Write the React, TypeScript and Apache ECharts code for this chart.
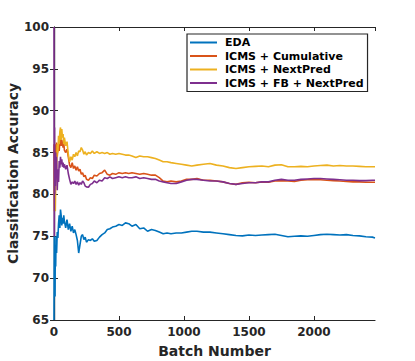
import React, { useEffect, useRef } from "react";
import * as echarts from "echarts";

const batches = [0,2,4,6,8,10,13,16,20,25,30,35,40,45,50,55,60,65,70,75,80,90,100,110,120,130,140,150,160,170,180,190,200,210,220,230,240,250,265,280,295,310,330,350,370,390,410,430,450,475,500,525,550,575,600,630,660,690,720,750,780,810,840,870,900,940,980,1020,1060,1100,1150,1200,1250,1300,1350,1400,1450,1500,1550,1600,1650,1700,1750,1800,1850,1900,1950,2000,2050,2100,2150,2200,2250,2300,2350,2400,2450,2470];

const eda = [65,75,68,72,67.8,74,71.4,75,73,75.5,74.8,76.5,77.5,76,78.2,77.5,76.3,77.2,76.5,77.5,76.8,76,77,75.8,76.5,75.6,76.2,75.4,75.8,75.2,74.5,73.0,74.0,75.0,75.2,74.6,74.9,74.3,74.6,74.5,74.7,74.4,74.5,74.9,75.2,75.4,75.8,75.9,76.1,76.2,76.4,76.3,76.6,76.5,76.2,76.4,75.9,76.0,75.6,75.8,75.7,75.5,75.3,75.4,75.3,75.4,75.4,75.5,75.6,75.6,75.5,75.5,75.4,75.3,75.2,75.1,75.05,75.15,75.1,75.15,75.2,75.25,75.1,74.95,75.0,75.05,75.0,75.1,75.2,75.25,75.2,75.15,75.2,75.1,75.05,74.95,74.9,74.8];

const cumulative = [86,80,86,83,85.5,84,86,85,86.2,84.5,85.5,86,85.2,86.3,86.8,85.8,86.5,86.1,85.6,86.2,85.3,85.0,85.4,84.5,83.5,83.2,83.8,83.1,83.4,82.9,83.3,82.8,83.0,82.4,82.6,82.1,82.3,81.8,81.7,82.0,81.9,82.3,82.2,82.5,82.6,82.9,82.4,82.3,82.5,82.4,82.6,82.5,82.6,82.5,82.6,82.5,82.4,82.5,82.4,82.3,82.3,82.0,81.6,81.5,81.6,81.5,81.6,81.8,81.8,81.9,81.7,81.7,81.6,81.5,81.3,81.2,81.4,81.45,81.4,81.5,81.45,81.6,81.65,81.6,81.55,81.7,81.75,81.8,81.75,81.7,81.65,81.6,81.55,81.5,81.5,81.45,81.45,81.45];

const nextPred = [80,78,84,79,82,78,81,84,83,86,85,87,86,87.5,88,86.5,87.8,86.8,87.2,86.0,86.8,85.8,86.3,84.8,83.9,84.5,84.1,84.8,84.5,85.0,84.6,85.2,85.1,85.6,85.3,84.8,85.1,84.7,85.0,84.9,85.2,84.9,85.1,84.9,85.0,84.9,85.0,84.8,84.9,84.8,84.9,84.8,84.7,84.7,84.6,84.4,84.6,84.5,84.5,84.4,84.3,84.1,83.9,83.9,83.8,83.7,83.6,83.5,83.4,83.5,83.6,83.7,83.5,83.4,83.2,83.1,83.2,83.3,83.35,83.4,83.3,83.5,83.55,83.3,83.3,83.35,83.3,83.4,83.45,83.5,83.4,83.45,83.4,83.4,83.35,83.3,83.3,83.3];

const fbNextPred = [100,75,88,80,84,81,85,82,84.5,80.5,83,81.5,84,83.2,84.5,83.6,84.2,83.3,83.8,83.2,83.6,83.0,83.5,82.5,81.8,81.2,81.5,81.3,81.6,81.2,81.5,81.1,81.4,81.2,81.6,81.4,81.0,80.9,80.85,81.2,81.3,81.6,81.4,81.7,81.6,82.0,81.9,82.1,81.9,82.0,82.1,82.0,82.1,82.0,82.0,82.1,81.9,82.0,81.9,81.8,81.8,81.6,81.5,81.4,81.3,81.3,81.5,81.7,81.8,81.8,81.7,81.6,81.6,81.5,81.3,81.2,81.3,81.4,81.4,81.5,81.5,81.7,81.8,81.7,81.7,81.8,81.85,81.9,81.9,81.85,81.8,81.75,81.7,81.7,81.65,81.65,81.7,81.7];

const seriesNames = ["EDA", "ICMS + Cumulative", "ICMS + NextPred", "ICMS + FB + NextPred"];
const seriesColors = ["#0072BD", "#D95319", "#EDB120", "#7E2F8E"];
const seriesValues = [eda, cumulative, nextPred, fbNextPred];

const X_MAX = 2470;
const FONT = "DejaVu Sans";
const AX = "#262626";
const LEGEND_ICON = "path://M0,0 L27,0 L27,2 L0,2 Z";

export default function App() {
  const ref = useRef<HTMLDivElement>(null);
  useEffect(() => {
    const chart = echarts.init(ref.current!, null, { renderer: "svg" });
    const tickStyle = { show: true, inside: true, length: 4, lineStyle: { color: AX, width: 1 } };
    const lineStyle = { show: true, lineStyle: { color: AX, width: 1.2 } };
    const plain = (v: number) => String(v);
    chart.setOption({
      animation: false,
      backgroundColor: "#fff",
      grid: { left: 54, right: 40, top: 27, bottom: 41, containLabel: false, outerBoundsMode: "none" },
      legend: {
        orient: "vertical",
        left: 187,
        top: 34,
        padding: [3, 4, 3, 3],
        itemWidth: 27,
        itemHeight: 10,
        itemGap: 2.5,
        symbolKeepAspect: true,
        backgroundColor: "#fff",
        borderColor: AX,
        borderWidth: 1.2,
        textStyle: { fontFamily: FONT, fontWeight: "bold", fontSize: 11, color: "#000", padding: [0, 0, 0, 3] },
        data: seriesNames.map((name) => ({ name, icon: LEGEND_ICON })),
      },
      xAxis: [
        {
          type: "value",
          min: 0,
          max: X_MAX,
          interval: 500,
          name: "Batch Number",
          nameLocation: "middle",
          nameGap: 24,
          nameMoveOverlap: false,
          nameTextStyle: { fontFamily: FONT, fontWeight: "bold", fontSize: 14, color: AX },
          axisLine: lineStyle,
          axisTick: tickStyle,
          splitLine: { show: false },
          axisLabel: { fontFamily: FONT, fontWeight: "bold", fontSize: 12, color: AX, margin: 6, showMaxLabel: false, formatter: plain },
        },
        {
          type: "value",
          position: "top",
          min: 0,
          max: X_MAX,
          interval: 500,
          axisLine: lineStyle,
          axisTick: tickStyle,
          splitLine: { show: false },
          axisLabel: { show: false },
        },
      ],
      yAxis: [
        {
          type: "value",
          min: 65,
          max: 100,
          interval: 5,
          name: "Classification Accuracy",
          nameLocation: "middle",
          nameGap: 34,
          nameMoveOverlap: false,
          nameTextStyle: { fontFamily: FONT, fontWeight: "bold", fontSize: 14, color: AX },
          axisLine: lineStyle,
          axisTick: tickStyle,
          splitLine: { show: false },
          axisLabel: { fontFamily: FONT, fontWeight: "bold", fontSize: 12, color: AX, margin: 5, formatter: plain },
        },
        {
          type: "value",
          position: "right",
          min: 65,
          max: 100,
          interval: 5,
          axisLine: lineStyle,
          axisTick: tickStyle,
          splitLine: { show: false },
          axisLabel: { show: false },
        },
      ],
      series: seriesNames.map((name, i) => ({
        name,
        type: "line",
        xAxisIndex: 0,
        yAxisIndex: 0,
        symbol: "none",
        color: seriesColors[i],
        lineStyle: { color: seriesColors[i], width: 1.6 },
        data: batches.map((b, j) => [b, seriesValues[i][j]]),
        z: 2 + i,
      })),
    });
    return () => chart.dispose();
  }, []);
  return (
    <div
      ref={ref}
      style={{ position: "fixed", left: 0, top: 0, width: 415, height: 361 }}
    />
  );
}
